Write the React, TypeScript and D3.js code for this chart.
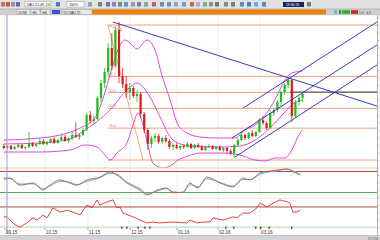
import React from 'react';
import * as d3 from 'd3';

// ---------- data ----------
const opens  = [22,20,22,19,21,23,20,21,25,22,24,27,24,26,29,25,28,31,27,30,33,31,33,38,53,47,49,70,85,96,120,102,138,92,84,76,80,72,74,54,38,24,30,32,26,30,27,21,23,20,22,21,24,20,23,21,18,21,22,19,21,18,20,17,15,23,28,33,30,35,32,36,48,45,40,55,58,66,76,83,88,52,66,70];
const highs  = [24,23,23,22,24,24,22,36,26,25,30,29,27,30,31,29,33,33,31,36,46,35,40,55,57,52,72,88,100,125,135,142,146,100,92,85,82,78,76,56,40,32,35,34,31,33,29,24,25,23,24,26,25,24,25,23,22,24,23,22,23,21,21,19,24,30,36,34,36,38,37,50,52,47,58,60,68,78,85,91,89,68,72,76];
const lows   = [19,19,18,18,20,19,18,20,21,21,23,23,22,25,24,24,27,26,25,28,30,28,32,37,45,44,48,66,80,92,98,100,85,80,70,68,70,66,50,35,18,20,26,24,24,25,19,18,19,18,19,20,19,19,20,17,17,20,18,18,17,16,15,13,10,22,27,28,29,31,31,35,43,38,39,52,56,62,73,80,46,50,62,66];
const closes = [20,22,19,21,23,20,21,25,22,24,27,24,26,29,25,28,31,27,30,33,31,33,38,53,47,49,70,85,96,120,102,138,92,84,76,80,72,74,54,38,24,30,32,26,30,27,21,23,20,22,21,24,20,23,21,18,21,22,19,21,18,20,17,15,23,28,33,30,35,32,36,48,45,40,55,58,66,76,83,88,52,66,70,74];

const bbUpper = [[0,28],[10,30],[15.6,33],[21.2,40],[25.3,50],[27.6,70],[29.5,93],[31.7,118],[33.7,128],[35.6,123],[37,119],[39.8,128],[42,118],[43.9,93],[46.2,68],[48.4,43],[50.9,35],[54.5,31],[58.7,30],[64.2,30],[67,38],[69.8,43],[72.6,53],[75.3,68],[78.1,88],[80,95],[83,97]];
const bbMiddle = [[0,24],[10,25],[18.4,29],[22.6,38],[29.5,58],[34.2,78],[37,85],[40.6,71],[43.4,51],[47,28],[51.7,22],[60.1,21],[65.6,22],[69.8,28],[73.9,40],[78.1,56],[80.3,64],[83,68]];
const bbLower = [[0,16],[10,16],[18.4,18],[22.6,23],[25.9,21],[28.1,13],[29.5,8],[31.7,16],[34.2,25],[35.9,43],[37.3,55],[38.7,43],[40,23],[41.4,5],[44.2,0],[46.2,2],[48.4,8],[51.2,12],[54.5,15],[60.1,15],[65.6,13],[69.8,8],[72.6,7],[75.3,10],[78.1,10],[80,18],[82.3,35],[83,38]];

const fibHigh = 143;
const fibLow = 8;
const fibStartIdx = 28.9;
const fibEndIdx = 38.7;
const fibLevels = [0, 38.2, 50, 61.8, 76.4, 100];

const trendLine = [[30.3,146],[104.5,61]];
const pitchfork = [
  [[66.5,60],[104.5,148]],
  [[63.4,30],[104.5,125]],
  [[64.2,11],[104.5,105]],
];
const hLineLevel = 76;
const hLineStartIdx = 79.5;

const oscIdx = [0,1.7,4.5,8.1,10.9,12.8,15.6,17.6,20.3,23.1,26.7,29.5,31.4,34.2,37.8,39.8,42.6,45.3,47,49.8,51.7,53.9,56.4,60.1,63.7,66.4,68.4,71.2,75.9,78.7,80.3,82.3];
const oscK = [61,61,41,47,27,41,56,50,41,56,64,79,70,47,27,13,27,33,19,21,47,33,64,47,36,61,56,76,84,87,79,70];
const oscD = [58,60,44,45,31,38,52,51,43,52,62,75,72,50,31,16,24,31,22,20,42,36,59,49,38,57,57,72,82,87,82,73];
const oscLevels = [80, 20];

const rsiIdx = [0,0.9,1.7,3.1,4.5,6.4,8.1,9.2,10.9,12,13.7,15.6,17.6,19.2,21.2,23.1,24.5,25.9,26.7,28.7,30.3,31.4,32.3,33.1,35.9,37.8,39.8,41.4,43.4,47,50.9,51.7,53.7,55.3,57.3,58.1,60.9,63.7,64.8,66.4,68.4,70.3,71.2,73.1,74.8,76.7,78.7,79.5,80.3,81.4,82.3];
const rsiVals = [41,41,31,16,9,22,38,31,47,38,69,56,62,56,47,78,69,94,78,88,94,69,72,53,41,31,22,25,22,25,22,31,22,25,25,38,31,41,38,53,53,69,84,72,84,94,88,84,56,56,62];
const rsiLevels = [72, 9];

const dateIdx = [0.3, 11.4, 23.4, 35.1, 48.1, 59.5, 71.2];
const dateLabels = ['09.15', '10.15', '11.15', '12.15', '01.16', '02.16', '03.16'];
const eventIdx = [32.8, 34.2, 37.3, 39.2, 40.6, 61.7, 63.9, 70, 71.4, 73.7, 80];

// ---------- chart ----------
const W = 380, H = 240;
const PR = 377; // plot right edge

export default function App() {
  const x = d3.scaleLinear().domain([0, 100]).range([3.8, 363.8]);
  const yM = d3.scaleLinear().domain([0, 154]).range([168, 14]);
  const yO = d3.scaleLinear().domain([0, 100]).range([199.5, 164.5]);
  const yR = d3.scaleLinear().domain([0, 100]).range([230, 198]);

  const band = d3.line<number[]>().x(d => x(d[0])).y(d => yM(d[1])).curve(d3.curveMonotoneX);
  const seg = d3.line<number[]>().x(d => x(d[0])).y(d => yM(d[1]));
  const oscLine = (vals: number[]) => d3.line<number>().x((_, i) => x(oscIdx[i])).y(d => yO(d)).curve(d3.curveMonotoneX)(vals) || '';
  const rsiLine = d3.line<number>().x((_, i) => x(rsiIdx[i])).y(d => yR(d))(rsiVals) || '';

  const extend = (p: number[][]) => {
    const [a, b] = p;
    const s = (b[1] - a[1]) / (b[0] - a[0]);
    const xe = x.invert(PR + 5);
    return [a, [xe, a[1] + s * (xe - a[0])]];
  };

  const font = 'Liberation Sans, Arial, sans-serif';
  const blue = '#3b3bc6';
  const fibColor = '#f0a07c';
  const bb = '#dc48dc';

  const toolIcons = [
    [1, '#d05020'], [6, '#c03030'], [11, '#8080a0'], [16, '#3050b0'], [56, '#3060c0'], [88, '#8090b0'],
    [98, '#606060'], [106, '#4060a0'], [112, '#7070a0'], [118, '#607080'], [124, '#4080c0'], [131, '#8080c0'],
    [137, '#6060a0'], [144, '#7090b0'], [152, '#b04070'], [160, '#6070a0'], [167, '#5080b0'], [174, '#60a0c0'],
    [182, '#4090d0'], [190, '#c04040'], [196, '#a0a0d0'], [203, '#60a060'], [209, '#708070'], [215, '#506050'],
    [224, '#707090'], [231, '#606060'], [240, '#4070c0'], [247, '#3060d0'], [254, '#40a0e0'], [262, '#3070c0'], [307, '#606060'],
  ];

  return (
    <svg width={W} height={H} style={{ position: 'fixed', left: 0, top: 0, background: '#fff' }} fontFamily={font}>
      <defs>
        <clipPath id="cm"><rect x={0} y={15} width={PR} height={153} /></clipPath>
        <clipPath id="co"><rect x={0} y={168} width={PR} height={30} /></clipPath>
        <clipPath id="cr"><rect x={0} y={198} width={PR} height={31} /></clipPath>
      </defs>
      <rect x={0} y={0} width={W} height={H} fill="#fff" />

      {/* grid */}
      {dateIdx.map((d, i) => (
        <line key={'g' + i} x1={x(d)} x2={x(d)} y1={15} y2={228} stroke="#ececec" strokeWidth={0.8} />
      ))}

      {/* main panel */}
      <g clipPath="url(#cm)">
        {fibLevels.map((p, i) => {
          const v = fibHigh - (p / 100) * (fibHigh - fibLow);
          return <line key={'f' + i} x1={x(fibStartIdx)} x2={PR} y1={yM(v)} y2={yM(v)} stroke={fibColor} strokeWidth={1} />;
        })}
        {fibLevels.slice(1, 5).map((p, i) => {
          const v = fibHigh - (p / 100) * (fibHigh - fibLow);
          return <text key={'ft' + i} x={x(fibStartIdx) + 1} y={yM(v) - 1} fontSize={3.6} fill="#e08070">{p.toFixed(1)}</text>;
        })}
        <path d={seg([[fibStartIdx, fibHigh], [fibEndIdx, fibLow]]) || ''} stroke={fibColor} fill="none" strokeWidth={0.9} />
        <path d={seg([[fibStartIdx, fibHigh], [32.8, fibHigh - 6], [31.9, fibHigh]]) || ''} stroke={fibColor} fill="none" strokeWidth={0.9} />
        <line x1={x(hLineStartIdx)} x2={PR} y1={yM(hLineLevel)} y2={yM(hLineLevel)} stroke="#333" strokeWidth={0.9} />

        {/* bollinger */}
        <path d={band(bbUpper) || ''} stroke={bb} fill="none" strokeWidth={1} />
        <path d={band(bbMiddle) || ''} stroke={bb} fill="none" strokeWidth={1} />
        <path d={band(bbLower) || ''} stroke={bb} fill="none" strokeWidth={1} />

        {/* candles */}
        {closes.map((c, i) => {
          const o = opens[i];
          const up = c >= o;
          const col = up ? '#16c016' : '#dd1a1a';
          const cx = x(i);
          const top = yM(Math.max(o, c));
          const h = Math.max(1, yM(Math.min(o, c)) - top);
          return (
            <g key={'c' + i}>
              <line x1={cx} x2={cx} y1={yM(highs[i])} y2={yM(lows[i])} stroke={col} strokeWidth={0.8} />
              <rect x={cx - 1.1} y={top} width={2.2} height={h} fill={col} />
            </g>
          );
        })}

        {/* trend lines */}
        <path d={seg(extend(trendLine)) || ''} stroke={blue} fill="none" strokeWidth={1} />
        {pitchfork.map((p, i) => (
          <path key={'p' + i} d={seg(extend(p)) || ''} stroke={blue} fill="none" strokeWidth={1} />
        ))}
      </g>

      {/* separators */}
      <line x1={0} x2={PR} y1={168} y2={168} stroke="#d8d8a8" strokeWidth={1} />
      <line x1={0} x2={PR} y1={198.5} y2={198.5} stroke="#e4e4e4" strokeWidth={0.8} />

      {/* oscillator */}
      <g clipPath="url(#co)">
        <line x1={0} x2={PR} y1={yO(oscLevels[0])} y2={yO(oscLevels[0])} stroke="#b04848" strokeWidth={1} />
        <line x1={0} x2={PR} y1={yO(oscLevels[1])} y2={yO(oscLevels[1])} stroke="#58b058" strokeWidth={1} />
        <path d={oscLine(oscD)} stroke="#3cc8c8" fill="none" strokeWidth={1} />
        <path d={oscLine(oscK)} stroke="#d04848" fill="none" strokeWidth={0.9} />
      </g>

      {/* second indicator */}
      <g clipPath="url(#cr)">
        <line x1={0} x2={PR} y1={yR(rsiLevels[0])} y2={yR(rsiLevels[0])} stroke="#b04848" strokeWidth={1} />
        <line x1={0} x2={PR} y1={yR(rsiLevels[1])} y2={yR(rsiLevels[1])} stroke="#a8d8a8" strokeWidth={1} />
        <path d={rsiLine} stroke="#e03030" fill="none" strokeWidth={0.9} />
      </g>

      {/* cursor line */}
      <line x1={7} x2={7} y1={15} y2={234} stroke="#b090c8" strokeWidth={1} />

      {/* date axis */}
      {eventIdx.map((e, i) => (
        <rect key={'e' + i} x={x(e) - 0.5} y={226.5} width={1} height={2.5} fill="#222" />
      ))}
      {dateIdx.map((d, i) => (
        <g key={'d' + i}>
          <line x1={x(d)} x2={x(d)} y1={228} y2={230} stroke="#666" strokeWidth={0.6} />
          <text x={x(d) + 1} y={234} fontSize={4.6} fill="#333">{dateLabels[i]}</text>
        </g>
      ))}

      {/* right axis */}
      <rect x={PR} y={15} width={W - PR} height={220} fill="#fafafa" />
      <line x1={PR + 0.5} x2={PR + 0.5} y1={15} y2={235} stroke="#a0a0a0" strokeWidth={0.8} />
      {d3.range(18, 232, 7.5).map((t, i) => (
        <line key={'rt' + i} x1={PR + 0.5} x2={PR + 2} y1={t} y2={t} stroke="#888" strokeWidth={0.5} />
      ))}

      {/* bottom status bar */}
      <rect x={0} y={235.5} width={W} height={4.5} fill="#d4d4d4" />
      <line x1={0} x2={W} y1={235.5} y2={235.5} stroke="#a8a8a8" strokeWidth={0.6} />
      <text x={368} y={239.5} fontSize={3.4} fill="#555">ZOOM</text>

      {/* toolbar */}
      <rect x={0} y={0} width={W} height={9} fill="#e2e2e2" />
      {toolIcons.map(([tx, c], i) => (
        <rect key={'ti' + i} x={tx as number} y={2} width={4} height={4.5} fill={c as string} opacity={0.8} rx={0.5} />
      ))}
      <rect x={25} y={1.5} width={26} height={5.5} fill="#fff" stroke="#9a9a9a" strokeWidth={0.5} />
      <text x={26.5} y={5.8} fontSize={3.6} fill="#222">XAU-15.4K-1X</text>
      <rect x={67} y={1.5} width={17} height={5.5} fill="#fff" stroke="#9a9a9a" strokeWidth={0.5} />
      <text x={69} y={5.8} fontSize={3.6} fill="#222">100%</text>
      <rect x={283} y={2} width={21} height={5} fill="#15235e" />
      <text x={286} y={5.8} fontSize={3.4} fill="#fff">19:30:26</text>

      {/* tab row */}
      <rect x={0} y={9} width={W} height={6} fill="#cfcfcf" />
      <line x1={0} x2={W} y1={9} y2={9} stroke="#a0a0a0" strokeWidth={0.6} />
      {[[17, 13, 'DOW'], [31, 9, 'H1'], [41, 9, 'H4'], [62, 30, 'D1 XAU 15']].map(([tx, tw, tl], i) => (
        <g key={'tab' + i}>
          <rect x={tx as number} y={9.5} width={tw as number} height={5} fill="#e8e8e8" stroke="#909090" strokeWidth={0.4} />
          <text x={(tx as number) + 1.5} y={13.6} fontSize={3.4} fill="#222">{tl as string}</text>
        </g>
      ))}
      <rect x={52} y={10} width={8} height={4} fill="#3b56c8" />
      <rect x={92} y={9.5} width={234} height={5} fill="#f0820c" />
      <rect x={334} y={10.3} width={3} height={3.5} fill="#70a8d8" />
      <rect x={339} y={10.3} width={2} height={3.5} fill="#2a8a2a" />
      <rect x={342} y={10.3} width={8} height={3.5} fill="#2ab42a" />
      <rect x={351} y={10.3} width={7} height={3.5} fill="#d02020" />
      <text x={359} y={13.5} fontSize={3.2} fill="#444">1.0 · 4.0</text>
      <line x1={0} x2={W} y1={14.8} y2={14.8} stroke="#b8b8b8" strokeWidth={0.5} />
    </svg>
  );
}
